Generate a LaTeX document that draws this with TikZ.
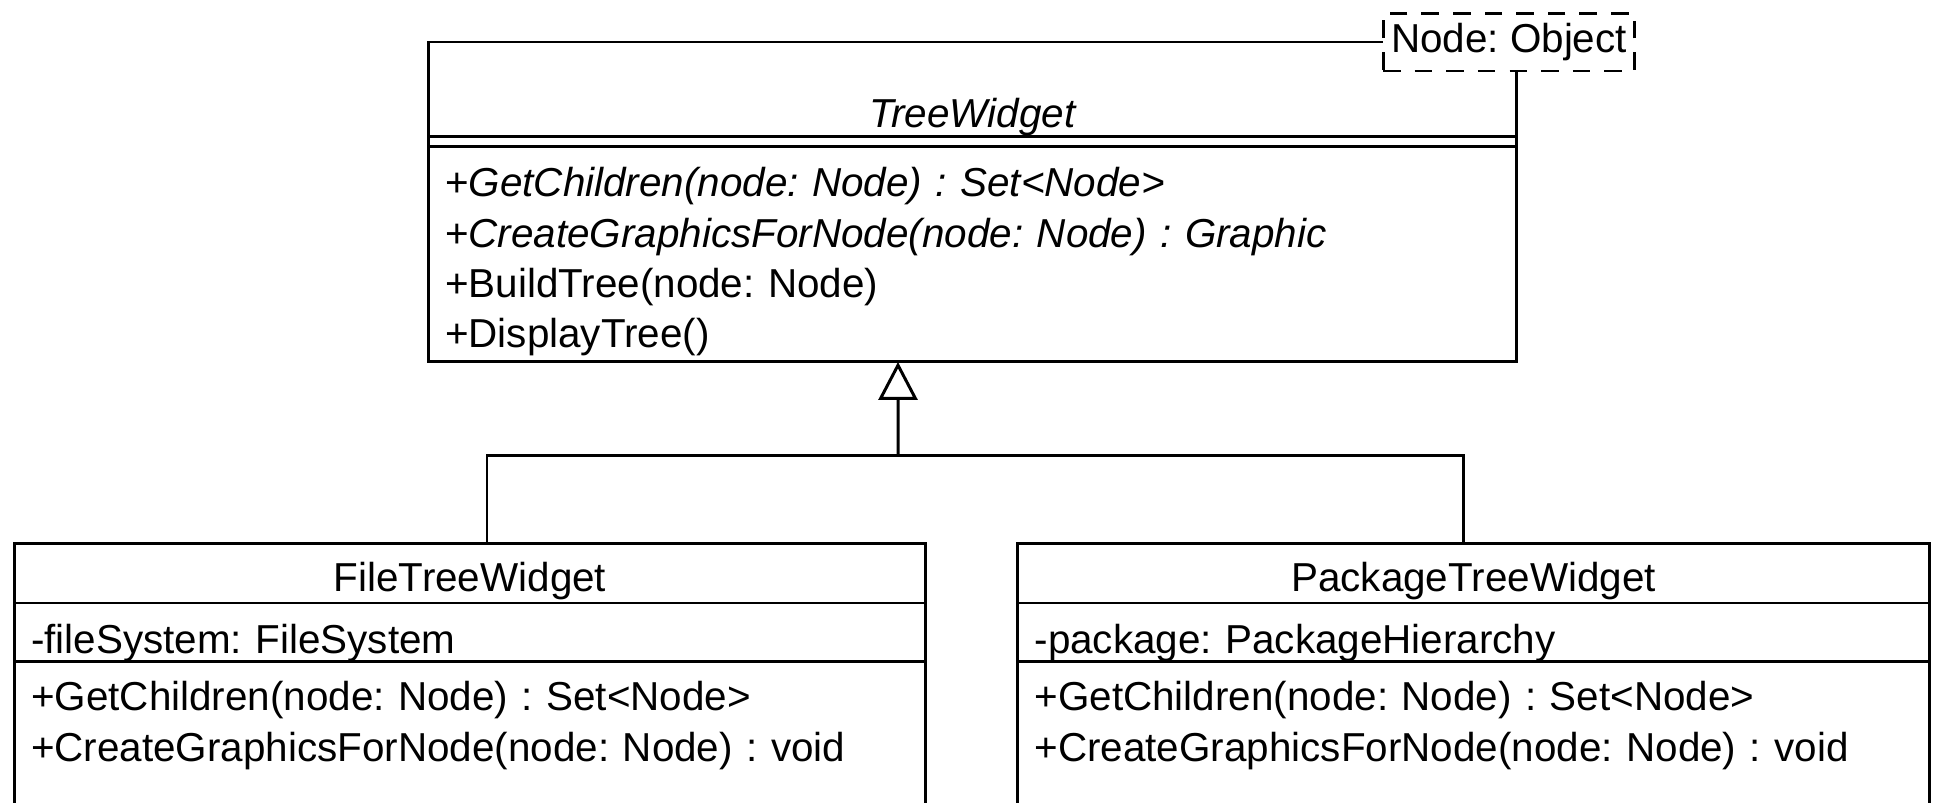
\documentclass[tikz,border=0pt]{standalone}
\usepackage{fontspec}
\setmainfont{Liberation Sans}
\usetikzlibrary{positioning,arrows.meta}

\newcommand{\umlfont}{\fontsize{23}{28.6}\selectfont\frenchspacing}

\begin{document}
\begin{tikzpicture}[
    x=0.02cm, y=-0.02cm,
    line width=1.7pt,
    cls/.style={rectangle, draw, outer sep=0pt, inner xsep=0.34cm, inner ysep=0pt, font=\umlfont},
    wide/.style={cls, minimum width=21.78cm, text width=21.1cm},
    narrow/.style={cls, minimum width=18.24cm, text width=17.56cm},
    tparam/.style={rectangle, draw, dash pattern=on 10pt off 8pt, fill=white, inner sep=0pt,
        minimum width=5.04cm, minimum height=1.16cm, font=\umlfont},
    edge/.style={draw, line width=1.7pt}
]
\useasboundingbox (0,0) rectangle (1935,802);

% Abstract class
\node[wide, anchor=north, align=center, font=\umlfont\itshape, text height=1.72cm, text depth=0.18cm] (twname) at (972.5,42) {TreeWidget};
\node[wide, below=0pt of twname, text height=0pt, text depth=0.2cm] (twattr) {};
\node[wide, below=0pt of twattr, align=left, text height=1.0cm, text depth=3.3cm] (twmeth) {%
    +\textit{GetChildren(node: Node) : Set<Node>}\\
    +\textit{CreateGraphicsForNode(node: Node) : Graphic}\\
    +BuildTree(node: Node)\\
    +DisplayTree()};

% Template parameter
\node[tparam] (param) at (1509,42) {Node: Object};

% Subclasses
\node[narrow, anchor=north, align=center, text height=0.98cm, text depth=0.22cm] (ftwname) at (470,543) {FileTreeWidget};
\node[narrow, below=0pt of ftwname, align=left, text height=1.02cm, text depth=0.16cm] (ftwattr) {-fileSystem: FileSystem};
\node[narrow, below=0pt of ftwattr, align=left, text height=0.98cm, text depth=3cm] (ftwmeth) {%
    +GetChildren(node: Node) : Set<Node>\\
    +CreateGraphicsForNode(node: Node) : void};

\node[narrow, anchor=north, align=center, text height=0.98cm, text depth=0.22cm] (ptwname) at (1473.5,543) {PackageTreeWidget};
\node[narrow, below=0pt of ptwname, align=left, text height=1.02cm, text depth=0.16cm] (ptwattr) {-package: PackageHierarchy};
\node[narrow, below=0pt of ptwattr, align=left, text height=0.98cm, text depth=3cm] (ptwmeth) {%
    +GetChildren(node: Node) : Set<Node>\\
    +CreateGraphicsForNode(node: Node) : void};

% Generalization
\coordinate (join) at (898,455);
\draw[edge] ([xshift=0.34cm]ftwname.north) |- (join) -| ([xshift=-0.21cm]ptwname.north);
\draw[edge, -{Triangle[open, length=0.76cm, width=0.78cm]}] (join) -- ([xshift=-1.49cm]twmeth.south);

\end{tikzpicture}
\end{document}
